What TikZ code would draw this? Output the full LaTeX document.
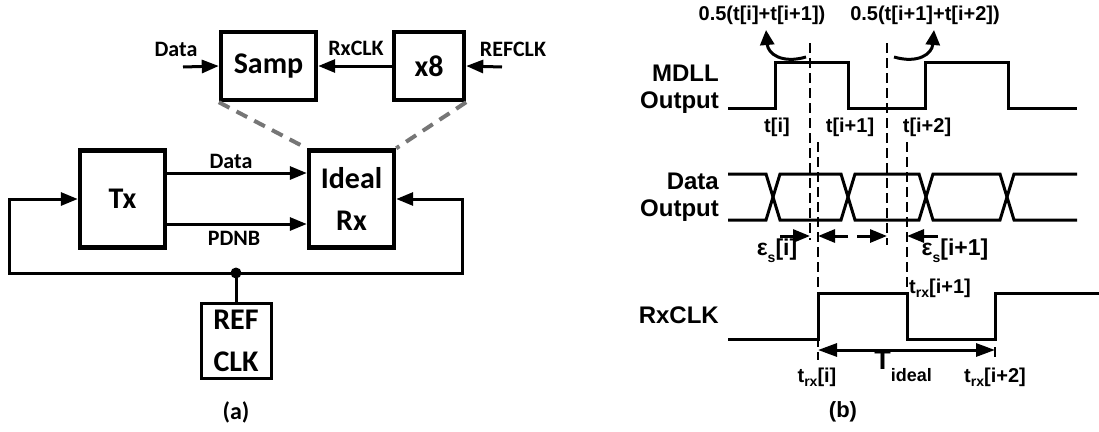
\documentclass[tikz,border=0pt]{standalone}
\usepackage{fontspec}
\newfontfamily\calfont{Carlito}
\newfontfamily\arifont{Liberation Sans}
\usetikzlibrary{arrows.meta,calc}
\definecolor{dashgray}{RGB}{118,118,118}
\newcommand\fsz[2]{\fontsize{#1}{#2}\selectfont}
\newcommand\lowsub[2]{\raisebox{-#1}{\fsz{14}{14}#2}}

\tikzset{
  blk/.style={draw,line width=4.4pt,inner sep=0pt,align=center,font=\calfont\bfseries\fsz{30}{42}},
  tip/.style={Triangle[length=17pt,width=13pt]},
  sig/.style={line width=3pt,-{Triangle[length=17pt,width=13pt]}},
  dsig/.style={line width=3pt,{Triangle[length=19pt,width=13pt]}-{Triangle[length=19pt,width=13pt]}},
  gdash/.style={line width=4pt,draw=dashgray,dash pattern=on 12pt off 8pt},
  wave/.style={line width=3pt},
  vdash/.style={line width=2.8pt,dash pattern=on 10pt off 5pt},
  clbl/.style={font=\calfont\bfseries\fsz{22}{22}},
  albl/.style={font=\arifont\bfseries\fsz{20}{20},inner sep=0pt},
  wlbl/.style={font=\arifont\bfseries\fsz{24}{27},align=right,anchor=east,inner sep=0pt},
}

\begin{document}
\begin{tikzpicture}[x=1pt,y=-1pt]
  \useasboundingbox (0,0) rectangle (1099,431);

  % (a) block diagram
  \node[blk,minimum width=95pt,minimum height=68pt] (samp) at (268.5,66) {Samp};
  \node[blk,minimum width=70pt,minimum height=68pt] (x8) at (429,66) {x8};
  \node[blk,minimum width=85pt,minimum height=97pt] (rx) at (351.5,199) {Ideal\\Rx};
  \node[blk,minimum width=85pt,minimum height=97pt] (tx) at (122.5,199) {Tx};
  \node[blk,line width=3pt,minimum width=70pt,minimum height=75pt] (ref) at (236,340.5) {REF\\CLK};

  \coordinate (din) at (183,67);
  \coordinate (refin) at (502,67);
  \draw[sig] (din) -- (samp.west);
  \draw[sig] (x8.west) -- (samp.east);
  \draw[sig] (refin) -- (x8.east);
  \node[clbl] (ldin) at (176,49) {Data};
  \node[clbl] (lrxclk) at (356,48) {RxCLK};
  \node[clbl] (lrefin) at (513,49) {REFCLK};

  \draw[gdash] (samp.south west) -- (rx.north west);
  \draw[gdash] (x8.south east) -- (rx.north east);

  \coordinate (dy) at (0,173);
  \coordinate (py) at (0,224);
  \draw[sig] (tx.east |- dy) -- (rx.west |- dy);
  \draw[sig] (tx.east |- py) -- (rx.west |- py);
  \node[clbl] (ldata) at (231,161) {Data};
  \node[clbl] (lpdnb) at (234,238) {PDNB};

  \coordinate (jn) at (236,273);
  \coordinate (fbl) at (9,273);
  \coordinate (fbr) at (462,273);
  \draw[sig] (jn) -- (fbl) |- (tx.west);
  \draw[sig] (jn) -- (fbr) |- (rx.east);
  \draw[wave] (ref.north) -- (jn);
  \fill (jn) circle (5.5);
  \node[font=\calfont\bfseries\fsz{24}{24}] (capa) at (236,412) {(a)};

  % (b) timing diagram
  \node[wlbl] (lmdll) at (719,89) {MDLL\\Output};
  \node[wlbl] (ldout) at (719,197) {Data\\Output};
  \node[wlbl] (lrxc) at (719,315) {RxCLK};

  \draw[wave] (728,108) -- (775,108) -- (775,62) -- (848,62) -- (848,108)
    -- (925,108) -- (925,62) -- (1008,62) -- (1008,108) -- (1077,108);
  \draw[wave] (728,174) -- (766,174) -- (780,220) -- (841,220) -- (855,174)
    -- (919,174) -- (933,220) -- (1000,220) -- (1014,174) -- (1077,174);
  \draw[wave] (728,220) -- (766,220) -- (780,174) -- (841,174) -- (855,220)
    -- (919,220) -- (933,174) -- (1000,174) -- (1014,220) -- (1077,220);
  \draw[wave] (728,339) -- (818,339) -- (818,293) -- (907,293) -- (907,339)
    -- (995,339) -- (995,293) -- (1099,293);

  \draw[vdash] (810,43) -- (810,240);
  \draw[vdash] (887,43) -- (887,245);
  \draw[vdash] (818,142) -- (818,360);
  \draw[vdash] (907,142) -- (907,293);
  \draw[vdash] (995,347) -- (995,360);

  \node[albl] (lti) at (777,127) {t[i]};
  \node[albl] (lti1) at (850,127) {t[i+1]};
  \node[albl] (lti2) at (927,127) {t[i+2]};
  \node[albl] (lmid1) at (762,15) {0.5(t[i]+t[i+1])};
  \node[albl] (lmid2) at (925,15) {0.5(t[i+1]+t[i+2])};
  \draw[sig,-{Triangle[length=15pt,width=14pt]}] (806,57) .. controls (782,64) and (768,54) .. (766,30);
  \draw[sig,-{Triangle[length=15pt,width=14pt]}] (894,57) .. controls (918,64) and (932,54) .. (934,30);

  \draw[sig] (780,236) -- (810,236);
  \draw[sig] (848,236) -- (818,236);
  \draw[sig] (857,236) -- (887,236);
  \draw[sig] (938,236) -- (907,236);
  \node[font=\arifont\bfseries\fsz{23}{23}] (leps1) at (777,251) {ε\lowsub{0.3em}{s}[i]};
  \node[font=\arifont\bfseries\fsz{23}{23}] (leps2) at (955,251) {ε\lowsub{0.3em}{s}[i+1]};

  \draw[dsig] (818,350) -- (995,350);
  \node[albl] (ltr0) at (817,377) {t\lowsub{0.2em}{rx}[i]};
  \node[albl,anchor=west] (ltr1) at (909,288) {t\lowsub{0.2em}{rx}[i+1]};
  \node[albl] (ltr2) at (995,377) {t\lowsub{0.2em}{rx}[i+2]};
  \node[font=\arifont\bfseries\fsz{27}{27}] (ltid) at (903,366)
    {T\raisebox{-0.45em}{\fsz{18}{18}ideal}};
  \node[font=\arifont\bfseries\fsz{22}{22}] (capb) at (843,412) {(b)};
\end{tikzpicture}
\end{document}
